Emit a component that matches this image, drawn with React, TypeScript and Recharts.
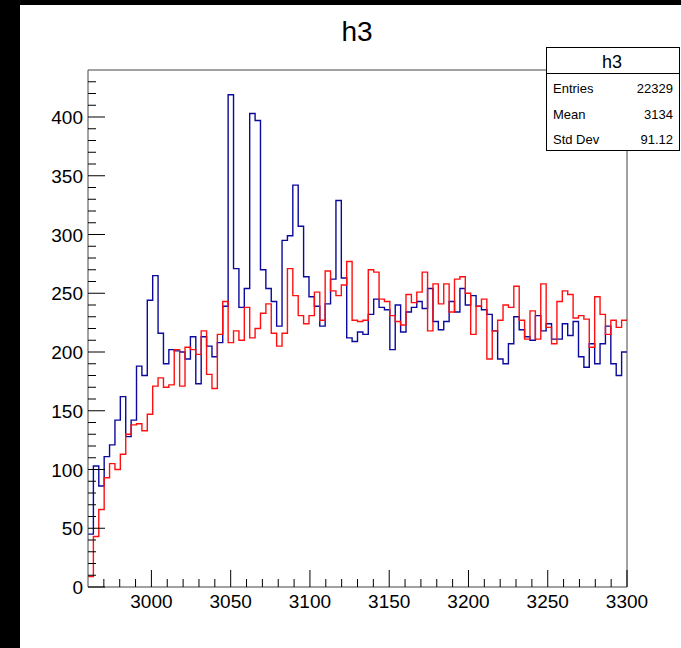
import { LineChart, Line, XAxis, YAxis } from 'recharts';

// ROOT style histogram: 100 bins from 2960 to 3300
const xMin = 2960;
const xMax = 3300;
const nBins = 100;

const blueCounts = [
  45, 103, 86, 111, 121, 142, 162, 128, 142, 188,
  180, 244, 265, 216, 190, 202, 201, 200, 194, 213,
  173, 213, 205, 196, 208, 239, 419, 271, 238, 254,
  403, 397, 270, 254, 243, 222, 295, 299, 342, 307,
  264, 247, 239, 222, 241, 262, 329, 263, 212, 209,
  217, 215, 232, 245, 238, 236, 202, 240, 217, 234,
  238, 243, 237, 254, 226, 219, 226, 243, 234, 254,
  240, 248, 239, 236, 232, 218, 194, 190, 207, 230,
  219, 213, 210, 231, 218, 224, 211, 211, 224, 214,
  226, 196, 187, 207, 190, 207, 222, 190, 180, 200,
];

const redCounts = [
  9, 43, 66, 93, 105, 100, 113, 130, 138, 139,
  133, 147, 171, 178, 170, 172, 202, 171, 204, 202,
  198, 218, 181, 169, 215, 243, 208, 218, 210, 238,
  212, 220, 233, 241, 216, 205, 216, 271, 248, 231,
  224, 231, 251, 227, 269, 252, 248, 257, 277, 227,
  226, 227, 270, 268, 245, 243, 231, 226, 223, 249,
  242, 251, 268, 218, 258, 241, 258, 234, 262, 264,
  250, 215, 239, 245, 194, 218, 227, 240, 238, 256,
  227, 211, 235, 211, 258, 221, 207, 243, 252, 249,
  229, 231, 228, 204, 247, 232, 215, 227, 221, 227,
];

const xMajor = [3000, 3050, 3100, 3150, 3200, 3250, 3300];
const yMajor = [0, 50, 100, 150, 200, 250, 300, 350, 400];

const statsRows = [
  { label: 'Entries', value: '22329' },
  { label: 'Mean', value: '3134' },
  { label: 'Std Dev', value: '91.12' },
];

const xTicks: number[] = [];
for (let v = 2970; v <= xMax; v += 10) xTicks.push(v);
const yTicks: number[] = [];
for (let v = 0; v <= 430; v += 10) yTicks.push(v);

const binWidth = (xMax - xMin) / nBins;
const data = blueCounts.map((b, i) => ({ x: xMin + i * binWidth, blue: b, red: redCounts[i] }));
data.push({ x: xMax, blue: blueCounts[nBins - 1], red: redCounts[nBins - 1] });

const font = '"Liberation Sans", Arial, Helvetica, sans-serif';

const XTick = (props: any) => {
  const { x, y, payload } = props;
  const major = xMajor.includes(payload.value);
  return (
    <g>
      <line x1={x} x2={x} y1={y} y2={y - (major ? 17 : 8)} stroke="#000" strokeWidth={1} />
      {major && (
        <text x={x} y={y + 21} textAnchor="middle" fontSize={19} fontFamily={font} fill="#000">
          {payload.value}
        </text>
      )}
    </g>
  );
};

const YTick = (props: any) => {
  const { x, y, payload } = props;
  const major = yMajor.includes(payload.value);
  return (
    <g>
      <line x1={x} x2={x + (major ? 17 : 8)} y1={y} y2={y} stroke="#000" strokeWidth={1} />
      {major && (
        <text x={x - 5} y={y + 7} textAnchor="end" fontSize={19} fontFamily={font} fill="#000">
          {payload.value}
        </text>
      )}
    </g>
  );
};

export default function App() {
  return (
    <div style={{ position: 'absolute', left: 0, top: 0, width: 681, height: 648, background: '#000', overflow: 'hidden' }}>
      <div style={{ position: 'absolute', left: 20, top: 5, width: 661, height: 643, background: '#fff' }} />
      <div style={{ position: 'absolute', left: 0, top: 0 }}>
        <LineChart width={681} height={648} data={data} margin={{ top: 69, left: 87, right: 53, bottom: 60 }}>
          <XAxis
            dataKey="x"
            type="number"
            domain={[xMin, xMax]}
            ticks={xTicks}
            interval={0}
            height={1}
            tickSize={0}
            tickMargin={0}
            tick={<XTick />}
            tickLine={false}
            axisLine={{ stroke: '#444' }}
            allowDataOverflow
          />
          <XAxis xAxisId="top" orientation="top" dataKey="x" type="number" domain={[xMin, xMax]} height={1} tick={false} tickLine={false} axisLine={{ stroke: '#444' }} />
          <YAxis
            type="number"
            domain={[0, 440]}
            ticks={yTicks}
            interval={0}
            width={1}
            tickSize={0}
            tickMargin={0}
            tick={<YTick />}
            tickLine={false}
            axisLine={{ stroke: '#444' }}
            allowDataOverflow
          />
          <YAxis yAxisId="right" orientation="right" type="number" domain={[0, 440]} width={1} tick={false} tickLine={false} axisLine={{ stroke: '#444' }} />
          <Line type="stepAfter" dataKey="blue" stroke="#0a0a9c" strokeWidth={1.4} dot={false} isAnimationActive={false} />
          <Line type="stepAfter" dataKey="red" stroke="#ff1010" strokeWidth={1.4} dot={false} isAnimationActive={false} />
        </LineChart>
      </div>
      <svg width={681} height={648} style={{ position: 'absolute', left: 0, top: 0, pointerEvents: 'none' }}>
        <text x={357} y={41} textAnchor="middle" fontSize={28} fontFamily={font} fill="#000">h3</text>
        <rect x={546.5} y={47.5} width={133} height={103} fill="#fff" stroke="#000" strokeWidth={1} />
        <line x1={546.5} x2={679.5} y1={73.5} y2={73.5} stroke="#000" strokeWidth={1} />
        <text x={612} y={68} textAnchor="middle" fontSize={18} fontFamily={font} fill="#000">h3</text>
        {statsRows.map((r, i) => (
          <g key={r.label}>
            <text x={553} y={93 + i * 25.5} fontSize={13} fontFamily={font} fill="#000">{r.label}</text>
            <text x={673} y={93 + i * 25.5} textAnchor="end" fontSize={13} fontFamily={font} fill="#000">{r.value}</text>
          </g>
        ))}
      </svg>
    </div>
  );
}
